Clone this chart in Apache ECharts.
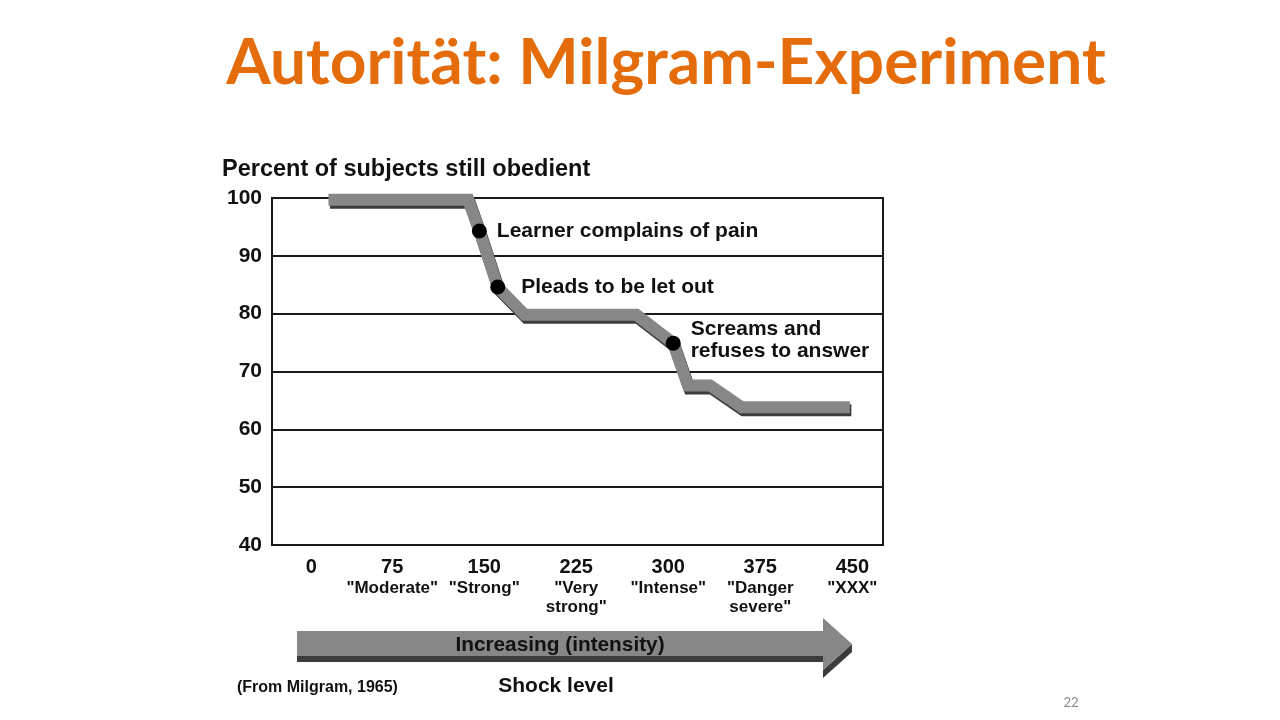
<!DOCTYPE html>
<html>
<head>
<meta charset="utf-8">
<script src="https://cdn.jsdelivr.net/npm/echarts@6/dist/echarts.min.js"></script>
<style>
html,body{margin:0;padding:0;background:#fff;}
#chart{width:1280px;height:720px;}
</style>
</head>
<body>
<div id="chart"></div>
<script>
// ---- data ----
const titleText = 'Autorität: Milgram-Experiment';
const yAxisTitle = 'Percent of subjects still obedient';
const shockLevels = [23, 137, 146, 161, 183, 274, 304, 316, 334, 360, 448];
const obedientPct = [99.7, 99.7, 94.3, 84.6, 79.8, 79.8, 74.9, 67.6, 67.6, 63.8, 63.8];
const eventShock = [146, 161, 304];
const eventPct = [94.3, 84.6, 74.9];
const eventLabels = ['Learner complains of pain', 'Pleads to be let out', 'Screams and\nrefuses to answer'];
const xTickValues = [0, 75, 150, 225, 300, 375, 450];
const xTickNames = ['', '"Moderate"', '"Strong"', '"Very\nstrong"', '"Intense"', '"Danger\nsevere"', '"XXX"'];
const arrowText = 'Increasing (intensity)';
const xAxisTitle = 'Shock level';
const sourceText = '(From Milgram, 1965)';
const pageNumber = '22';

const FONT = '"Liberation Sans", Arial, sans-serif';
const TXT = '#111111';
const chart = echarts.init(document.getElementById('chart'));

const lineData = shockLevels.map((x, i) => [x, obedientPct[i]]);
const dotData = eventShock.map((x, i) => ({
  value: [x, eventPct[i]],
  label: {
    show: true,
    position: 'right',
    formatter: eventLabels[i],
    distance: i === 1 ? 16 : 10,
    offset: i === 2 ? [0, -3] : [0, 0],
    color: TXT,
    fontFamily: FONT, fontWeight: 'bold', fontSize: 21, lineHeight: 22, align: 'left'
  }
}));

const LIGHT = '#878787', DARK = '#3c3c3c';

chart.setOption({
  animation: false,
  backgroundColor: '#ffffff',
  title: {
    text: titleText,
    left: 661,
    top: 26,
    textAlign: 'center',
    textStyle: { fontFamily: 'Lato, "Open Sans", sans-serif', fontWeight: 'bold', fontSize: 64, color: '#E46C0A' }
  },
  grid: {
    left: 272, top: 198, width: 611, height: 347,
    show: true, borderColor: '#1a1a1a', borderWidth: 2, backgroundColor: 'transparent'
  },
  xAxis: {
    type: 'value', min: -23, max: 475,
    axisLine: { show: true, onZero: false, lineStyle: { color: '#1a1a1a', width: 2 } },
    axisTick: { show: false },
    splitLine: { show: false },
    axisLabel: {
      customValues: xTickValues,
      margin: 10,
      color: TXT,
      fontFamily: FONT,
      formatter: function (v) {
        const i = xTickValues.indexOf(v);
        let s = (v === 0 ? '{z|' : '{n|') + v + '}';
        if (i >= 0 && xTickNames[i]) {
          s += '\n' + xTickNames[i].split('\n').map(t => '{d|' + t + '}').join('\n');
        }
        return s;
      },
      rich: {
        n: { fontFamily: FONT, fontWeight: 'bold', fontSize: 20, lineHeight: 24, color: TXT },
        z: { fontFamily: FONT, fontWeight: 'bold', fontSize: 20, lineHeight: 24, color: TXT, padding: [0, 0, 0, 22] },
        d: { fontFamily: FONT, fontWeight: 'bold', fontSize: 17, lineHeight: 19, color: TXT }
      }
    }
  },
  yAxis: {
    type: 'value', min: 40, max: 100, interval: 10,
    axisLine: { show: true, onZero: false, lineStyle: { color: '#1a1a1a', width: 2 } },
    axisTick: { show: false },
    splitLine: { show: true, lineStyle: { color: '#1a1a1a', width: 2 } },
    axisLabel: {
      margin: 10, color: TXT, fontFamily: FONT, fontWeight: 'bold', fontSize: 21,
      padding: [12, 0, 0, 0]
    }
  },
  series: [
    {
      type: 'line',
      data: lineData,
      symbol: 'none',
      clip: false,
      z: 3,
      lineStyle: {
        color: LIGHT, width: 12, cap: 'butt', join: 'miter',
        shadowColor: DARK, shadowBlur: 0, shadowOffsetX: 1.5, shadowOffsetY: 3
      }
    },
    {
      type: 'scatter',
      data: dotData,
      symbolSize: 15,
      z: 5,
      itemStyle: { color: '#000', opacity: 1 },
      emphasis: { disabled: true }
    }
  ],
  graphic: [
    { type: 'text', left: 222, top: 158, style: { text: yAxisTitle, fontFamily: FONT, fontWeight: 'bold', fontSize: 23.5, fill: TXT } },
    // arrow body
    { type: 'rect', shape: { x: 297, y: 656, width: 526, height: 6 }, style: { fill: DARK } },
    { type: 'rect', shape: { x: 297, y: 631, width: 526, height: 25 }, style: { fill: LIGHT } },
    { type: 'polygon', shape: { points: [[823, 670], [852, 644], [852, 652], [823, 678]] }, style: { fill: DARK } },
    { type: 'polygon', shape: { points: [[823, 618], [852, 644], [823, 670]] }, style: { fill: LIGHT } },
    { type: 'text', x: 560, y: 645, style: { text: arrowText, align: 'center', verticalAlign: 'middle', fontFamily: FONT, fontWeight: 'bold', fontSize: 20.8, fill: TXT } },
    { type: 'text', x: 556, y: 686, style: { text: xAxisTitle, align: 'center', verticalAlign: 'middle', fontFamily: FONT, fontWeight: 'bold', fontSize: 21, fill: TXT } },
    { type: 'text', x: 237, y: 688, style: { text: sourceText, align: 'left', verticalAlign: 'middle', fontFamily: FONT, fontWeight: 'bold', fontSize: 16, fill: TXT } },
    { type: 'text', x: 1071, y: 703, style: { text: pageNumber, align: 'center', verticalAlign: 'middle', fontFamily: 'Lato, sans-serif', fontSize: 13, fill: '#8c8c8c' } }
  ]
});
</script>
</body>
</html>
